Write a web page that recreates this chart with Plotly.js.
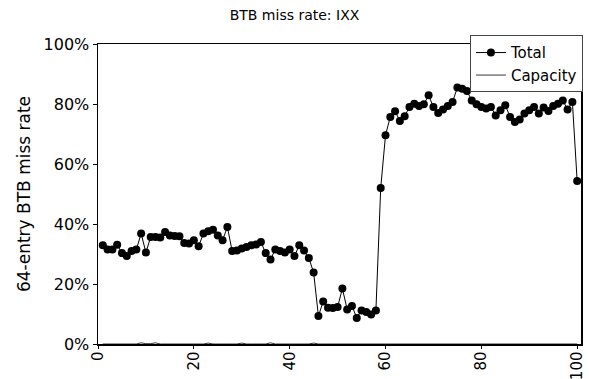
<!DOCTYPE html>
<html>
<head>
<meta charset="utf-8">
<script src="https://cdn.plot.ly/plotly-3.0.1.min.js"></script>
<style>html,body{margin:0;padding:0;background:#fff;}#chart{width:589px;height:379px;}</style>
</head>
<body>
<div id="chart"></div>
<script>
// Run index (1..100)
const runIndex = Array.from({length: 100}, (_, i) => i + 1);

// Total BTB miss rate (%)
const totalRate = [
  32.9, 31.5, 31.5, 33.1, 30.3, 29.3, 31.0, 31.5, 36.8, 30.5,
  35.7, 35.7, 35.5, 37.3, 36.2, 36.0, 35.9, 33.7, 33.5, 34.6,
  32.6, 36.8, 37.6, 38.1, 36.2, 34.6, 39.0, 31.0, 31.2, 31.8,
  32.3, 32.9, 33.2, 34.0, 30.3, 28.2, 31.5, 31.0, 30.5, 31.5,
  29.3, 32.9, 31.2, 28.7, 23.8, 9.3, 14.2, 12.1, 12.0, 12.3,
  18.5, 11.5, 12.7, 8.7, 11.2, 10.7, 9.8, 11.2, 52.0, 69.6,
  75.7, 77.6, 74.3, 75.9, 79.0, 80.1, 79.3, 79.9, 82.9, 79.0,
  77.0, 78.2, 79.3, 80.7, 85.5, 85.1, 84.3, 81.2, 79.9, 79.0,
  78.5, 79.0, 76.2, 77.9, 79.6, 75.7, 74.0, 74.8, 76.8, 77.9,
  79.0, 76.8, 78.8, 77.7, 79.3, 80.1, 81.2, 78.2, 80.7, 54.3
];

// Capacity miss rate (%)
const capacityRate = [
  0, 0, 0, 0, 0, 0, 0, 0, 0.4, 0.1,
  0.1, 0.4, 0, 0, 0, 0, 0, 0, 0, 0,
  0, 0, 0.3, 0, 0, 0, 0, 0, 0, 0.3,
  0, 0, 0, 0, 0, 0.4, 0, 0, 0, 0,
  0, 0, 0, 0, 0.3, 0, 0, 0, 0, 0,
  0, 0, 0, 0, 0, 0, 0, 0, 0, 0,
  0, 0, 0, 0, 0, 0, 0, 0, 0, 0,
  0, 0, 0, 0, 0, 0, 0, 0, 0, 0,
  0, 0, 0, 0, 0, 0, 0, 0, 0, 0,
  0, 0, 0, 0, 0, 0, 0, 0, 0, 0
];

const xTicks = [0, 20, 40, 60, 80, 100];
const yTicks = [0, 20, 40, 60, 80, 100];

const FONT = 'DejaVu Sans, Arial, sans-serif';

const traces = [
  {
    x: runIndex, y: totalRate, name: 'Total', type: 'scatter', mode: 'lines+markers',
    line: {color: '#000', width: 1},
    marker: {color: '#000', size: 8, symbol: 'circle'}
  },
  {
    x: runIndex, y: capacityRate, name: 'Capacity', type: 'scatter', mode: 'lines',
    line: {color: '#000', width: 0.8}
  }
];

const layout = {
  width: 589, height: 379,
  margin: {l: 98, r: 6, t: 44, b: 35},
  paper_bgcolor: '#fff', plot_bgcolor: '#fff',
  font: {family: FONT, color: '#000', size: 16},
  title: {text: 'BTB miss rate: IXX', font: {family: FONT, size: 14, color: '#000'},
          x: 0.5, xref: 'container', y: 0.96, yanchor: 'middle'},
  xaxis: {
    range: [0, 100.8], tickvals: xTicks, ticktext: xTicks.map(String),
    tickangle: -90, ticks: 'outside', ticklen: 3, tickwidth: 1, tickcolor: '#000',
    ticklabelstandoff: -3,
    showline: true, linecolor: '#000', linewidth: 1.5, mirror: true,
    showgrid: false, zeroline: false, tickfont: {family: FONT, size: 15, color: '#000'}
  },
  yaxis: {
    range: [0, 100], tickvals: yTicks, ticktext: yTicks.map(v => v + '%'),
    ticks: 'outside', ticklen: 4, tickwidth: 1, tickcolor: '#000',
    showline: true, linecolor: '#000', linewidth: 1.5, mirror: true,
    showgrid: false, zeroline: false, tickfont: {family: FONT, size: 16, color: '#000'},
    title: {text: '64-entry BTB miss rate', font: {family: FONT, size: 17, color: '#000'}, standoff: 8}
  },
  showlegend: true,
  legend: {
    x: 1.004, xanchor: 'right', y: 1.029, yanchor: 'top',
    bgcolor: '#fff', bordercolor: '#444', borderwidth: 1,
    font: {family: FONT, size: 15, color: '#000'}, tracegroupgap: 0
  }
};

Plotly.newPlot('chart', traces, layout, {displayModeBar: false, staticPlot: true});
</script>
</body>
</html>
